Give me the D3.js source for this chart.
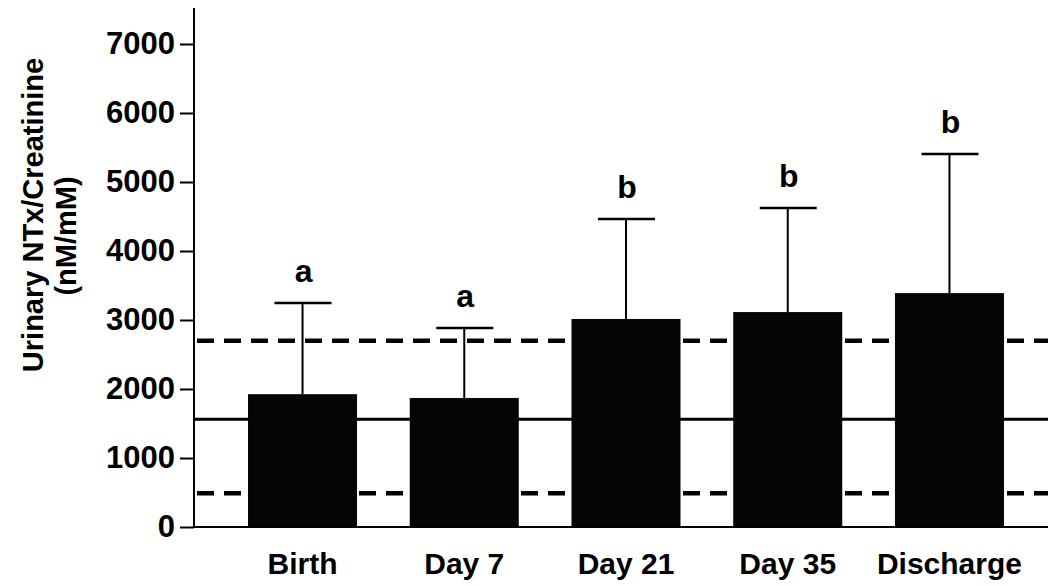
<!DOCTYPE html>
<html>
<head>
<meta charset="utf-8">
<script src="https://d3js.org/d3.v7.min.js"></script>
<style>
  body { margin: 0; background: #fff; font-family: "Liberation Sans", Arial, sans-serif; }
</style>
</head>
<body>
<div id="chart"></div>
<script>
var width = 1048, height = 586;

// ----- Data -----
var categories = ['Birth', 'Day 7', 'Day 21', 'Day 35', 'Discharge'];
var means = [1925, 1870, 3015, 3115, 3390];
var upperSD = [3245, 2885, 4465, 4625, 5405];
var letters = ['a', 'a', 'b', 'b', 'b'];
var yTicks = [0, 1000, 2000, 3000, 4000, 5000, 6000, 7000];
// reference range lines (mean and limits)
var refMean = 1560;
var refLimits = [2700, 490];

// ----- Scales -----
var x = d3.scaleBand().domain(categories)
  .range([194, 1058]).paddingInner(0.326).paddingOuter(0.334);
var y = d3.scaleLinear().domain([0, 7000]).range([527, 44]);

var svg = d3.select('#chart').append('svg')
  .attr('width', width).attr('height', height);

// reference lines behind bars
svg.append('line')
  .attr('x1', 194).attr('x2', width)
  .attr('y1', y(refMean)).attr('y2', y(refMean))
  .attr('stroke', '#000').attr('stroke-width', 3);

svg.selectAll('.lim').data(refLimits).enter().append('line')
  .attr('class', 'lim')
  .attr('x1', 197).attr('x2', width)
  .attr('y1', d => y(d)).attr('y2', d => y(d))
  .attr('stroke', '#000').attr('stroke-width', 4.5)
  .attr('stroke-dasharray', '17,10');

// error bars (upper only)
var eb = svg.selectAll('.eb').data(categories).enter().append('g');
eb.append('line')
  .attr('x1', d => x(d) + x.bandwidth() / 2).attr('x2', d => x(d) + x.bandwidth() / 2)
  .attr('y1', (d, i) => y(means[i])).attr('y2', (d, i) => y(upperSD[i]))
  .attr('stroke', '#000').attr('stroke-width', 2);
eb.append('line')
  .attr('x1', d => x(d) + x.bandwidth() / 2 - 28).attr('x2', d => x(d) + x.bandwidth() / 2 + 29)
  .attr('y1', (d, i) => y(upperSD[i])).attr('y2', (d, i) => y(upperSD[i]))
  .attr('stroke', '#000').attr('stroke-width', 2.5);

// bars
svg.selectAll('.bar').data(categories).enter().append('rect')
  .attr('x', d => x(d))
  .attr('y', (d, i) => y(means[i]))
  .attr('width', x.bandwidth())
  .attr('height', (d, i) => y(0) - y(means[i]))
  .attr('fill', '#050505');

// significance letters
svg.selectAll('.let').data(categories).enter().append('text')
  .attr('x', d => x(d) + x.bandwidth() / 2 + 1)
  .attr('y', (d, i) => y(upperSD[i]) - 21)
  .attr('text-anchor', 'middle')
  .attr('font-size', 32).attr('font-weight', 'bold')
  .text((d, i) => letters[i]);

// y axis
var yAxis = svg.append('g').attr('transform', 'translate(194,0)')
  .call(d3.axisLeft(y).tickValues(yTicks).tickSize(14).tickPadding(5).tickFormat(d3.format('d')));
yAxis.select('.domain').remove();
yAxis.selectAll('line').attr('stroke', '#000').attr('stroke-width', 2);
yAxis.selectAll('text')
  .attr('font-size', 31).attr('font-weight', 'bold')
  .attr('font-family', '"Liberation Sans", Arial, sans-serif')
  .attr('fill', '#000');

svg.append('line').attr('x1', 194).attr('x2', 194).attr('y1', 8).attr('y2', 528)
  .attr('stroke', '#000').attr('stroke-width', 2);
svg.append('line').attr('x1', 193).attr('x2', width).attr('y1', 527).attr('y2', 527)
  .attr('stroke', '#000').attr('stroke-width', 2);

// x labels
svg.selectAll('.xl').data(categories).enter().append('text')
  .attr('x', d => x(d) + x.bandwidth() / 2)
  .attr('y', 574)
  .attr('text-anchor', 'middle')
  .attr('font-size', 30).attr('font-weight', 'bold')
  .text(d => d);

// y title
svg.append('text')
  .attr('transform', 'translate(43,215) rotate(-90)')
  .attr('text-anchor', 'middle')
  .attr('font-size', 29).attr('font-weight', 'bold')
  .text('Urinary NTx/Creatinine');
svg.append('text')
  .attr('transform', 'translate(76,236) rotate(-90)')
  .attr('text-anchor', 'middle')
  .attr('font-size', 29).attr('font-weight', 'bold')
  .text('(nM/mM)');
</script>
</body>
</html>
